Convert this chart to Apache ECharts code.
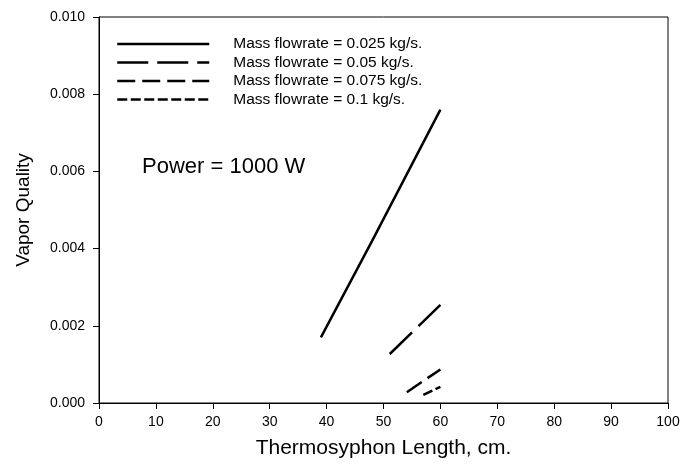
<!DOCTYPE html>
<html>
<head>
<meta charset="utf-8">
<script src="https://cdn.jsdelivr.net/npm/echarts@6/dist/echarts.min.js"></script>
<style>
html,body{margin:0;padding:0;background:#fff;}
#chart{width:695px;height:471px;}
</style>
</head>
<body>
<div id="chart"></div>
<script>
// Data
const seriesNames = [
  'Mass flowrate = 0.025 kg/s.',
  'Mass flowrate = 0.05 kg/s.',
  'Mass flowrate = 0.075 kg/s.',
  'Mass flowrate = 0.1 kg/s.'
];
const flow025 = [[39, 0.0017], [48, 0.0042], [60, 0.0076]];
const flow050 = [[51.1, 0.00127], [60, 0.00254]];
const flow075 = [[54.1, 0.00028], [60, 0.00087]];
const flow100 = [[57, 0.00021], [60, 0.00042]];
const xTicks = [0, 10, 20, 30, 40, 50, 60, 70, 80, 90, 100];
const yTicks = [0, 0.002, 0.004, 0.006, 0.008, 0.010];
const annotation = 'Power = 1000 W';

const font = 'Liberation Sans, Arial, sans-serif';
const dashes = ['solid', [31, 9], [18, 7], [10, 3.5]];
const dataSets = [flow025, flow050, flow075, flow100];

const chart = echarts.init(document.getElementById('chart'), null, {renderer: 'canvas'});
chart.setOption({
  animation: false,
  backgroundColor: '#fff',
  grid: {left: 99, right: 27, top: 17, bottom: 68, show: true, borderColor: '#000', borderWidth: 1},
  xAxis: {
    type: 'value', min: xTicks[0], max: xTicks[xTicks.length - 1], interval: 10,
    name: 'Thermosyphon Length, cm.', nameLocation: 'middle', nameGap: 35,
    nameTextStyle: {fontFamily: font, fontSize: 21, color: '#000'},
    axisLine: {lineStyle: {color: '#000', width: 1}},
    axisTick: {show: true, inside: false, length: 6, lineStyle: {color: '#000'}},
    axisLabel: {fontFamily: font, fontSize: 14, color: '#000', margin: 12},
    splitLine: {show: false}
  },
  yAxis: {
    type: 'value', min: yTicks[0], max: yTicks[yTicks.length - 1], interval: 0.002,
    name: 'Vapor Quality', nameLocation: 'middle', nameGap: 66,
    nameTextStyle: {fontFamily: font, fontSize: 19, color: '#000'},
    axisLine: {show: true, lineStyle: {color: '#000', width: 1}},
    axisTick: {show: true, inside: false, length: 6, lineStyle: {color: '#000'}},
    axisLabel: {fontFamily: font, fontSize: 14, color: '#000', margin: 14,
      formatter: v => v.toFixed(3)},
    splitLine: {show: false}
  },
  legend: {
    orient: 'vertical', left: 111, top: 31,
    itemWidth: 92, itemHeight: 14, itemGap: 2.5,
    data: seriesNames,
    itemStyle: {opacity: 0},
    lineStyle: {width: 2.5},
    textStyle: {fontFamily: font, fontSize: 15.5, color: '#000', padding: [0, 0, 0, 19]}
  },
  graphic: [{
    type: 'text', left: 142, top: 156,
    style: {text: annotation, font: '22px ' + font, fill: '#000'}
  }],
  series: seriesNames.map((n, i) => ({
    name: n, type: 'line', data: dataSets[i], showSymbol: false, symbol: 'none',
    lineStyle: {color: '#000', width: 2.5, type: dashes[i]},
    itemStyle: {color: '#000'}
  }))
});
</script>
</body>
</html>
